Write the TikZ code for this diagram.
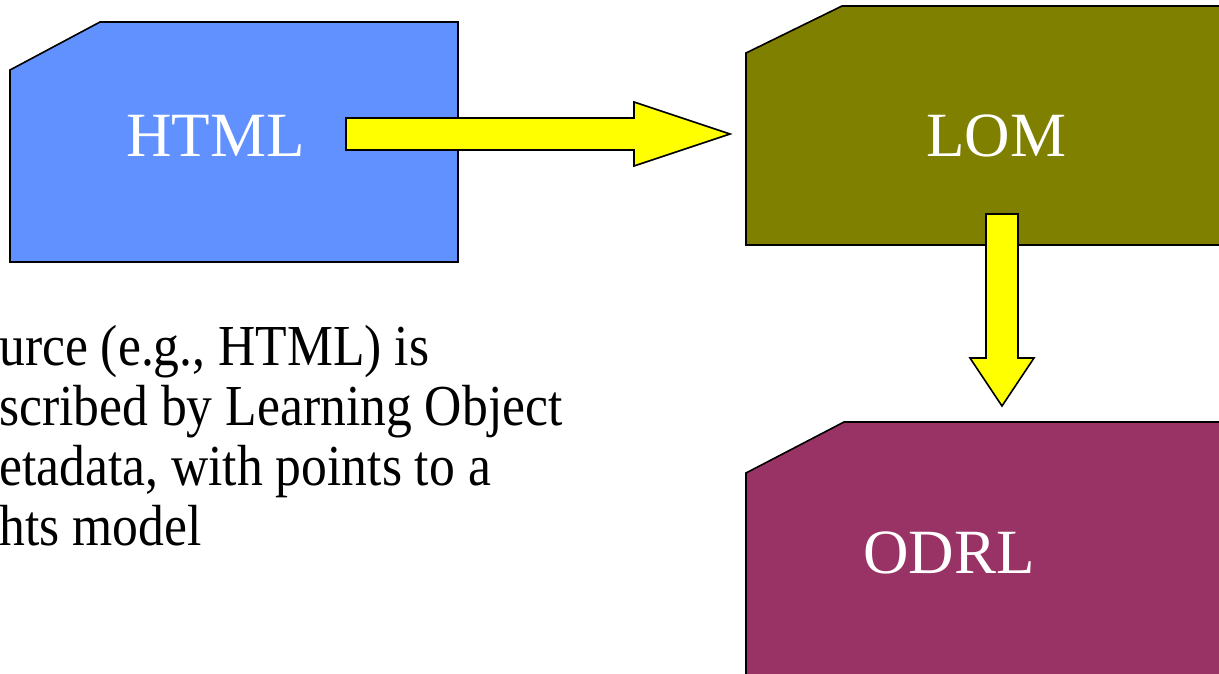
\documentclass[tikz,border=0pt]{standalone}
\usepackage{fontspec}
\setmainfont{Liberation Serif}
\newfontfamily\parafont[FakeStretch=0.89]{Liberation Serif}
\definecolor{htmlblue}{HTML}{6190FF}
\definecolor{lomolive}{HTML}{808000}
\definecolor{odrlplum}{HTML}{993366}
\definecolor{arrowyellow}{HTML}{FFFF00}
\begin{document}
\begin{tikzpicture}[x=1pt,y=-1pt,
  box/.style={draw=black,line width=1.6pt,line join=miter},
  boxlabel/.style={text=white,font=\fontsize{63}{63}\selectfont,inner sep=0pt,anchor=base west},
  para/.style={text=black,font=\parafont\fontsize{58}{60}\selectfont,inner sep=0pt,anchor=base west},
  blockarrow/.style={fill=arrowyellow,draw=black,line width=1.6pt,line join=miter}]
\useasboundingbox (0,0) rectangle (1219,674);
\fill[white] (0,0) rectangle (1219,674);
% boxes
\draw[box,fill=htmlblue] (10,70) -- (100,22) -- (458,22) -- (458,262) -- (10,262) -- cycle;
\draw[box,fill=lomolive] (746,53) -- (842,6) -- (1230,6) -- (1230,245) -- (746,245) -- cycle;
\draw[box,fill=odrlplum] (746,473) -- (844,422) -- (1230,422) -- (1230,690) -- (746,690) -- cycle;
% labels
\node[boxlabel] (html) at (126,157) {HTML};
\node[boxlabel] (lom) at (926,157) {LOM};
\node[boxlabel] (odrl) at (863,573) {ODRL};
% block arrows
\coordinate (a1) at (346,134);
\coordinate (a2) at (986,214);
\draw[blockarrow] (346,118) -- (634,118) -- (634,102) -- (730,134) -- (634,166) -- (634,150) -- (346,150) -- cycle;
\draw[blockarrow] (986,214) -- (1018,214) -- (1018,358) -- (1034,358) -- (1002,406) -- (970,358) -- (986,358) -- cycle;
% paragraph
\node[para] (l1) at (-1,365) {urce (e.g., HTML) is};
\node[para] (l2) at (-1,425) {scribed by Learning Object};
\node[para] (l3) at (-1,485) {etadata, with points to a};
\node[para] (l4) at (-1,545) {hts model};
\end{tikzpicture}
\end{document}
